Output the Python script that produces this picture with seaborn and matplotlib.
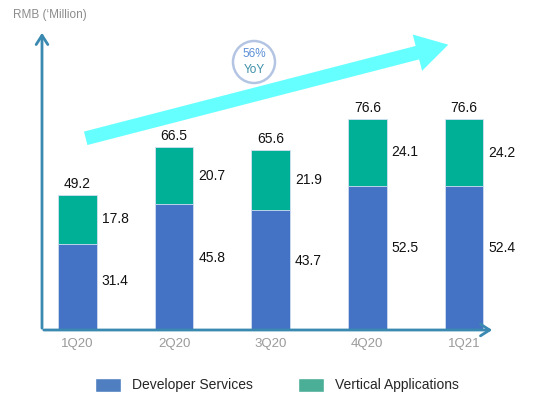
import matplotlib
matplotlib.use('Agg')
import matplotlib.pyplot as plt
import seaborn as sns
from matplotlib.patches import Ellipse, Patch

# Data
quarters = ['1Q20', '2Q20', '3Q20', '4Q20', '1Q21']
developer_services = [31.4, 45.8, 43.7, 52.5, 52.4]
vertical_applications = [17.8, 20.7, 21.9, 24.1, 24.2]
totals = [49.2, 66.5, 65.6, 76.6, 76.6]

blue = '#4472C4'
green = '#00B096'
axis_col = '#3A89B0'

sns.set_theme(style='white')
plt.rcParams['font.family'] = ['Liberation Sans', 'DejaVu Sans']

fig = plt.figure(figsize=(5.54, 3.99), dpi=100)
ax = fig.add_axes([0, 0, 1, 1])


def fpos(x, y):
    # pixel position (top-left origin) -> figure fraction
    return (x / 554, 1 - y / 399)


# stacked bars: total (green) then developer services (blue) on top
sns.barplot(x=quarters, y=totals, color=green, width=0.40, saturation=1,
            edgecolor='#D5E0F2', linewidth=0.6, ax=ax)
sns.barplot(x=quarters, y=developer_services, color=blue, width=0.40, saturation=1,
            edgecolor='#D5E0F2', linewidth=0.6, ax=ax)

ax.set_xlim(-0.802, 4.933)
ax.set_ylim(-25.1, 120)
ax.axis('off')

# value labels
for i, q in enumerate(quarters):
    ax.text(i, totals[i] + 1.4, f'{totals[i]:.1f}', ha='center', va='bottom',
            fontsize=10, color='#111111')
    ax.text(i + 0.25, developer_services[i] * 0.57, f'{developer_services[i]:.1f}',
            ha='left', va='center', fontsize=10, color='#111111')
    ax.text(i + 0.25, developer_services[i] + vertical_applications[i] / 2,
            f'{vertical_applications[i]:.1f}', ha='left', va='center',
            fontsize=10, color='#111111')
    ax.text(i, -5, q, ha='center', va='center', fontsize=9.5, color='#9A9A9A')

# axes arrows
ax.annotate('', xy=fpos(42, 30), xytext=fpos(42, 331), xycoords='figure fraction',
            arrowprops=dict(arrowstyle='->,head_length=0.55,head_width=0.35',
                            color=axis_col, lw=2))
ax.annotate('', xy=fpos(495, 330), xytext=fpos(41, 330), xycoords='figure fraction',
            arrowprops=dict(arrowstyle='->,head_length=0.55,head_width=0.35',
                            color=axis_col, lw=2))
fig.text(*fpos(13, 15), "RMB (\u2018Million)", ha='left', va='center',
         fontsize=8.5, color='#8C8C8C')

# growth arrow
ax.annotate('', xy=fpos(451, 44), xytext=fpos(83, 139), xycoords='figure fraction',
            arrowprops=dict(arrowstyle='simple,head_length=1.15,head_width=1.35,tail_width=0.5',
                            mutation_scale=20, color='#66FFFF', lw=0))

# YoY badge
cx, cy = fpos(254, 62)
fig.add_artist(Ellipse((cx, cy), 42 / 554, 42 / 399, transform=fig.transFigure,
                       facecolor='white', edgecolor='#B4C5E4', lw=1.8))
fig.text(cx, cy + 8 / 399, '56%', ha='center', va='center', fontsize=8.5, color='#5B8FD6')
fig.text(cx, cy - 8 / 399, 'YoY', ha='center', va='center', fontsize=8.5, color='#3D8FA8')

# legend
handles = [Patch(facecolor='#4F7FC0', label='Developer Services'),
           Patch(facecolor='#4BAE96', label='Vertical Applications')]
fig.legend(handles=handles, loc='center', bbox_to_anchor=(0.5, 1 - 385 / 399),
           ncol=2, frameon=False, fontsize=10, handlelength=1.9, handleheight=1.2,
           columnspacing=3.2, handletextpad=0.8)

fig.savefig('out.png', dpi=100)
